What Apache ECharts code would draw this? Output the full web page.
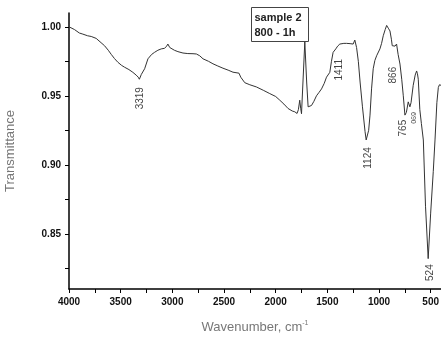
<!DOCTYPE html>
<html>
<head>
<meta charset="utf-8">
<script src="https://cdn.jsdelivr.net/npm/echarts@6/dist/echarts.min.js"></script>
<style>
html, body {margin: 0; padding: 0; background: #fff;}
#chart {width: 441px; height: 338px;}
</style>
</head>
<body>
<div id="chart"></div>
<script>
// spectrum (wavenumber, cm-1 / transmittance)
const waves = [
	4000, 3947, 3900, 3866, 3820, 3785, 3737, 3720, 3690, 3656, 3620, 3591, 3560, 3527, 3490, 3462,
	3420, 3382, 3350, 3330, 3319, 3300, 3268, 3236, 3200, 3172, 3140, 3107, 3075, 3055, 3043, 3025,
	3010, 2980, 2946, 2897, 2850, 2800, 2767, 2735, 2703, 2650, 2607, 2560, 2510, 2460, 2413, 2355,
	2338, 2299, 2250, 2186, 2120, 2057, 2000, 1960, 1920, 1880, 1840, 1815, 1793, 1780, 1767, 1758,
	1750, 1740, 1718, 1700, 1686, 1653, 1630, 1605, 1580, 1556, 1530, 1508, 1476, 1460, 1444, 1418,
	1400, 1379, 1340, 1314, 1280, 1250, 1234, 1224, 1217, 1200, 1183, 1160, 1135, 1124, 1111, 1100,
	1087, 1072, 1056, 1040, 1023, 991, 975, 959, 940, 926, 910, 894, 880, 872, 860, 845,
	830, 815, 797, 780, 765, 749, 735, 717, 701, 690, 669, 650, 636, 628, 620, 605,
	590, 571, 550, 524, 500, 475, 458, 440, 426, 415, 400
];
const trans = [
	1.000, 0.998, 0.9955, 0.9947, 0.9935, 0.993, 0.9916, 0.9906, 0.9885, 0.9863, 0.983, 0.980, 0.977, 0.9743, 0.972, 0.9707,
	0.969, 0.967, 0.965, 0.9635, 0.962, 0.9655, 0.9696, 0.9768, 0.980, 0.9815, 0.983, 0.984, 0.9844, 0.986, 0.9875, 0.985,
	0.9844, 0.983, 0.982, 0.981, 0.9806, 0.9805, 0.9803, 0.979, 0.9768, 0.975, 0.9732, 0.9716, 0.970, 0.9686, 0.9671, 0.9664,
	0.9635, 0.9595, 0.958, 0.9564, 0.954, 0.9516, 0.9495, 0.9468, 0.944, 0.9408, 0.939, 0.9384, 0.9372, 0.940, 0.9468, 0.941,
	0.937, 0.938, 0.989, 0.960, 0.942, 0.943, 0.946, 0.950, 0.9525, 0.955, 0.959, 0.9635, 0.967, 0.975, 0.9815, 0.984,
	0.986, 0.9875, 0.988, 0.988, 0.9878, 0.9875, 0.9904, 0.991, 0.985, 0.975, 0.960, 0.942, 0.924, 0.918, 0.918, 0.925,
	0.936, 0.955, 0.9696, 0.9756, 0.979, 0.984, 0.988, 0.9935, 0.998, 1.001, 0.999, 0.997, 0.991, 0.9863, 0.986, 0.986,
	0.9875, 0.980, 0.973, 0.962, 0.950, 0.936, 0.938, 0.9456, 0.942, 0.945, 0.9576, 0.965, 0.968, 0.966, 0.962, 0.940,
	0.930, 0.918, 0.870, 0.832, 0.865, 0.895, 0.918, 0.945, 0.956, 0.958, 0.9576
];

// peak annotations
const peakWaves = [3319, 1411, 1124, 866, 765, 690, 524];
const peakTrans = [0.962, 0.9855, 0.918, 0.986, 0.936, 0.942, 0.832];
const peakLabels = ['3319', '1411', '1124', '866', '765', '690', '524'];
// shift of the label centre from the peak point, in screen pixels
const peakShift = [[1, 19], [3, 23], [2, 18], [0, 29], [0, 13], [2, 11], [2, 14]];

const xTicks = [4000, 3500, 3000, 2500, 2000, 1500, 1000, 500];
const xMinorTicks = [3750, 3250, 2750, 2250, 1750, 1250, 750];
const yTicks = [0.85, 0.90, 0.95, 1.00];
const yMinorTicks = [0.825, 0.875, 0.925, 0.975];

const chart = echarts.init(document.getElementById('chart'));

const tickFont = {
	fontFamily: 'Liberation Sans, Arial, sans-serif',
	fontWeight: 'bold',
	fontSize: 10,
	color: '#111',
};
const titleFont = {
	fontFamily: 'Liberation Sans, Arial, sans-serif',
	fontSize: 13,
	color: '#777',
};

// label offset is applied in the rotated frame of the text
function peakLabel(i) {
	const [dx, dy] = peakShift[i];
	const small = peakLabels[i] === '690';
	return {
		show: true,
		formatter: peakLabels[i],
		position: 'inside',
		rotate: small ? -90 : 90,
		offset: small ? [dy, -dx] : [-dy, dx],
		fontFamily: 'Liberation Sans, Arial, sans-serif',
		fontSize: small ? 7 : 10,
		color: '#111',
	};
}

chart.setOption({
	animation: false,
	grid: {left: 69, right: 0, top: 13, bottom: 49, containLabel: false, outerBoundsMode: 'none'},
	xAxis: {
		type: 'value',
		inverse: true,
		min: 400,
		max: 4000,
		name: 'Wavenumber, cm{sup|-1}',
		nameLocation: 'middle',
		nameGap: 31,
		nameTextStyle: {
			...titleFont,
			rich: {
				sup: {fontFamily: titleFont.fontFamily, fontSize: 7, color: '#777', padding: [0, 0, 8, 0]},
			},
		},
		axisLine: {onZero: false, lineStyle: {color: '#000', width: 1.5}},
		axisTick: {
			customValues: [...xTicks, ...xMinorTicks],
			length: 4,
			lineStyle: {color: '#000', width: 1},
		},
		axisLabel: {
			customValues: xTicks,
			margin: 8,
			formatter: v => String(v),
			...tickFont,
		},
		splitLine: {show: false},
	},
	yAxis: {
		type: 'value',
		min: 0.81,
		max: 1.01,
		name: 'Transmittance',
		nameLocation: 'middle',
		nameGap: 52,
		nameTextStyle: titleFont,
		axisLine: {show: true, onZero: false, lineStyle: {color: '#000', width: 1.5}},
		axisTick: {
			show: true,
			customValues: [...yTicks, ...yMinorTicks],
			length: 4,
			lineStyle: {color: '#000', width: 1},
		},
		axisLabel: {
			customValues: yTicks,
			margin: 8,
			formatter: v => v.toFixed(2),
			...tickFont,
		},
		splitLine: {show: false},
	},
	series: [
		{
			type: 'line',
			data: waves.map((w, i) => [w, trans[i]]),
			showSymbol: false,
			lineStyle: {color: '#333', width: 1},
		},
		{
			type: 'scatter',
			symbolSize: 2,
			itemStyle: {color: 'rgba(0,0,0,0)'},
			z: 5,
			data: peakWaves.map((w, i) => ({
				value: [w, peakTrans[i]],
				label: peakLabel(i),
			})),
		},
	],
	graphic: [
		{
			type: 'group',
			left: 251,
			top: 7,
			children: [
				{
					type: 'rect',
					shape: {x: 0, y: 0, width: 57, height: 34},
					style: {fill: '#fff', stroke: '#444', lineWidth: 1},
				},
				{
					type: 'text',
					x: 3,
					y: 3,
					style: {
						text: 'sample 2\n800 - 1h',
						font: 'bold 11px "Liberation Sans", Arial, sans-serif',
						lineHeight: 15,
						fill: '#222',
					},
				},
			],
		},
	],
});
</script>
</body>
</html>
